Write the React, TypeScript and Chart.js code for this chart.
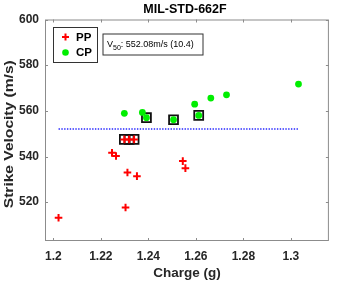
import React, { useEffect, useRef } from "react";
import { Chart, registerables } from "chart.js";

Chart.register(...registerables);

// Test shots: charge mass (g) vs. strike velocity (m/s)
const ppCharge = [1.2022, 1.2304, 1.2247, 1.2264, 1.2312, 1.2352, 1.2545, 1.2556, 1.2299, 1.2319, 1.234];
const ppVelocity = [513.2, 517.7, 541.6, 540.2, 533.0, 531.4, 538.0, 534.9, 547.5, 547.5, 547.5];

const cpCharge = [1.2299, 1.2375, 1.2392, 1.2506, 1.2595, 1.2612, 1.2663, 1.2729, 1.3032];
const cpVelocity = [558.9, 559.3, 557.0, 556.1, 562.9, 558.0, 565.6, 567.0, 571.7];

// Shots used for the V50 estimate (highest partials, lowest completes)
const v50Charge = [1.2299, 1.2319, 1.234, 1.2392, 1.2506, 1.2612];
const v50Velocity = [547.5, 547.5, 547.5, 557.0, 556.1, 558.0];

const v50 = 552.08;
const v50Spread = 10.4;
const v50LineCharge = [1.2022, 1.3032];

const xTicks = [1.2, 1.22, 1.24, 1.26, 1.28, 1.3];
const yTicks = [520, 540, 560, 580, 600];

const FONT = "'Liberation Sans', Arial, Helvetica, sans-serif";

const decorations = {
  id: "decorations",
  afterDraw(chart: any) {
    const { ctx, chartArea: a, scales } = chart;
    const xs = scales.x;
    const ys = scales.y;
    ctx.save();

    // axes box
    ctx.strokeStyle = "#8c8c8c";
    ctx.lineWidth = 1;
    ctx.strokeRect(a.left + 0.5, a.top + 0.5, a.right - a.left - 1, a.bottom - a.top - 1);

    // inward tick marks on all four sides
    const tl = 3;
    ctx.beginPath();
    xTicks.forEach((v) => {
      const px = Math.round(xs.getPixelForValue(v)) + 0.5;
      ctx.moveTo(px, a.bottom);
      ctx.lineTo(px, a.bottom - tl);
      ctx.moveTo(px, a.top);
      ctx.lineTo(px, a.top + tl);
    });
    yTicks.forEach((v) => {
      const py = Math.round(ys.getPixelForValue(v)) + 0.5;
      ctx.moveTo(a.left, py);
      ctx.lineTo(a.left + tl, py);
      ctx.moveTo(a.right, py);
      ctx.lineTo(a.right - tl, py);
    });
    ctx.stroke();

    const cx = (a.left + a.right) / 2;

    // title
    ctx.fillStyle = "#000";
    ctx.textAlign = "center";
    ctx.textBaseline = "middle";
    ctx.font = `bold 12.5px ${FONT}`;
    ctx.fillText("MIL-STD-662F", cx - 2, 9.5);

    // axis titles
    ctx.fillStyle = "#262626";
    ctx.font = `bold 13.5px ${FONT}`;
    ctx.fillText("Charge (g)", cx, 273.5);
    ctx.save();
    ctx.translate(9.5, (a.top + a.bottom) / 2 + 4);
    ctx.rotate(-Math.PI / 2);
    const yTitle = "Strike Velocity (m/s)";
    const w = ctx.measureText(yTitle).width;
    ctx.scale(148 / w, 1);
    ctx.fillText(yTitle, 0, 0);
    ctx.restore();

    // legend
    const lx = a.left + 8.5;
    const ly = a.top + 8;
    ctx.fillStyle = "#fff";
    ctx.fillRect(lx, ly, 44, 35);
    ctx.strokeStyle = "#333";
    ctx.lineWidth = 1;
    ctx.strokeRect(lx, ly, 44, 35);

    ctx.strokeStyle = "#ff0000";
    ctx.lineWidth = 2;
    ctx.beginPath();
    ctx.moveTo(lx + 8.5, ly + 9.5);
    ctx.lineTo(lx + 15.5, ly + 9.5);
    ctx.moveTo(lx + 12, ly + 6);
    ctx.lineTo(lx + 12, ly + 13);
    ctx.stroke();

    ctx.fillStyle = "#00ee00";
    ctx.beginPath();
    ctx.arc(lx + 12, ly + 25, 3.3, 0, Math.PI * 2);
    ctx.fill();

    ctx.fillStyle = "#000";
    ctx.textAlign = "left";
    ctx.font = `bold 11.5px ${FONT}`;
    ctx.fillText("PP", lx + 22.5, ly + 10);
    ctx.fillText("CP", lx + 22.5, ly + 25.5);

    // V50 annotation
    const bx = a.left + 58;
    const by = a.top + 14.5;
    ctx.fillStyle = "#fff";
    ctx.fillRect(bx, by, 100, 21);
    ctx.strokeStyle = "#333";
    ctx.lineWidth = 1;
    ctx.strokeRect(bx, by, 100, 21);

    ctx.fillStyle = "#000";
    ctx.font = `9px ${FONT}`;
    ctx.textBaseline = "alphabetic";
    let tx = bx + 4;
    const base = by + 13;
    ctx.fillText("V", tx, base);
    tx += ctx.measureText("V").width;
    ctx.font = `7px ${FONT}`;
    ctx.fillText("50", tx, base + 3);
    tx += ctx.measureText("50").width;
    ctx.font = `9px ${FONT}`;
    ctx.fillText(`: ${v50.toFixed(2)}m/s (${v50Spread})`, tx, base);

    ctx.restore();
  },
};

export default function App() {
  const canvasRef = useRef<HTMLCanvasElement | null>(null);

  useEffect(() => {
    document.body.style.margin = "0";
    const canvas = canvasRef.current;
    if (!canvas) return;

    const chart = new Chart(canvas, {
      type: "scatter",
      data: {
        datasets: [
          {
            label: "PP",
            data: ppCharge.map((x, i) => ({ x, y: ppVelocity[i] })),
            pointStyle: "cross",
            pointRadius: 3.8,
            borderColor: "#ff0000",
            backgroundColor: "#ff0000",
            borderWidth: 2,
          },
          {
            label: "CP",
            data: cpCharge.map((x, i) => ({ x, y: cpVelocity[i] })),
            pointStyle: "circle",
            pointRadius: 3.4,
            borderWidth: 0,
            borderColor: "#00ee00",
            backgroundColor: "#00ee00",
          },
          {
            label: "V50 shots",
            data: v50Charge.map((x, i) => ({ x, y: v50Velocity[i] })),
            pointStyle: "rect",
            pointRadius: 6.3,
            borderWidth: 1.8,
            borderColor: "#111",
            backgroundColor: "rgba(0,0,0,0)",
          },
          {
            type: "line",
            label: "V50",
            data: v50LineCharge.map((x) => ({ x, y: v50 })),
            showLine: true,
            pointRadius: 0,
            borderColor: "#2626ff",
            borderWidth: 1.6,
            borderDash: [1.4, 1.4],
          },
        ],
      },
      options: {
        responsive: false,
        animation: false,
        layout: { padding: { top: 19.5, right: 5, left: 0, bottom: 0 } },
        plugins: {
          legend: { display: false },
          title: { display: false },
          tooltip: { enabled: false },
        },
        scales: {
          x: {
            type: "linear",
            min: 1.1965,
            max: 1.316,
            grid: { display: false, drawTicks: false },
            border: { display: false },
            afterFit: (s: any) => {
              s.height = 46;
            },
            afterBuildTicks: (s: any) => {
              s.ticks = xTicks.map((value) => ({ value }));
            },
            ticks: {
              padding: 8,
              color: "#262626",
              font: { family: FONT, size: 12, weight: "bold" },
              callback: (v: any) => String(Number(v)),
            },
          },
          y: {
            type: "linear",
            min: 503,
            max: 600,
            grid: { display: false, drawTicks: false },
            border: { display: false },
            afterFit: (s: any) => {
              s.width = 45;
            },
            afterBuildTicks: (s: any) => {
              s.ticks = yTicks.map((value) => ({ value }));
            },
            ticks: {
              padding: 6,
              color: "#262626",
              font: { family: FONT, size: 12, weight: "bold" },
              callback: (v: any) => String(v),
            },
          },
        },
      },
      plugins: [decorations],
    });

    return () => chart.destroy();
  }, []);

  return (
    <div style={{ width: 337, height: 287, background: "#fff" }}>
      <canvas ref={canvasRef} width={337} height={287} />
    </div>
  );
}
